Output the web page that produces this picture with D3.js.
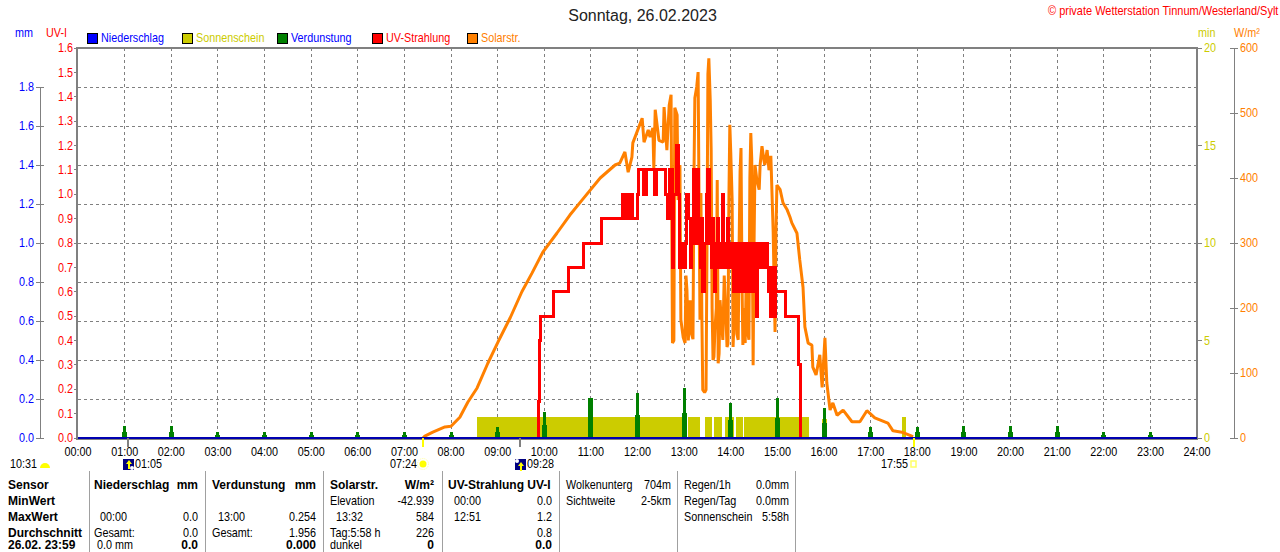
<!DOCTYPE html>
<html><head><meta charset="utf-8">
<script src="https://cdn.jsdelivr.net/npm/d3@7"></script>
<style>html,body{margin:0;padding:0;background:#fff;overflow:hidden}svg{display:block}text{font-family:"Liberation Sans",Arial,sans-serif;font-size:12px}</style>
</head><body><svg id="c" width="1280" height="552"></svg>
<script>
const hourLabels=["00:00","01:00","02:00","03:00","04:00","05:00","06:00","07:00","08:00","09:00","10:00","11:00","12:00","13:00","14:00","15:00","16:00","17:00","18:00","19:00","20:00","21:00","22:00","23:00","24:00"];
const uvTicks=[0,.1,.2,.3,.4,.5,.6,.7,.8,.9,1,1.1,1.2,1.3,1.4,1.5,1.6];
const mmTicks=[0,.2,.4,.6,.8,1,1.2,1.4,1.6,1.8];
const minTicks=[0,5,10,15,20];
const wattTicks=[0,100,200,300,400,500,600];
const legendNames=["Niederschlag","Sonnenschein","Verdunstung","UV-Strahlung","Solarstr."];
const legendColors=["#0000ff","#cccc00","#008000","#ff0000","#ff8000"];
const legendText=["#0000ff","#cccc00","#0000ff","#ff0000","#ff8000"];
const solarHours=[7.40,7.44,7.61,7.87,8.00,8.19,8.36,8.56,8.79,9.01,9.27,9.52,9.74,9.97,10.27,10.55,10.81,11.20,11.52,11.62,11.73,11.80,11.88,11.90,11.99,12.10,12.14,12.23,12.27,12.33,12.35,12.38,12.46,12.55,12.57,12.63,12.68,12.72,
12.75,12.78,12.80,12.85,12.87,12.91,12.93,12.98,13.02,13.04,13.06,13.09,13.13,13.16,13.19,13.21,13.23,13.27,13.30,13.32,13.34,13.36,13.38,13.40,13.44,13.47,13.49,13.51,13.53,13.56,13.58,13.60,13.62,13.64,13.66,13.69,13.71,13.73,13.75,13.77,13.80,13.83,13.86,13.89,13.92,13.94,13.96,13.98,14.00,14.03,14.05,14.08,14.11,14.13,14.16,14.18,14.20,14.22,14.24,14.26,14.28,14.31,14.33,14.35,14.37,14.39,14.41,14.43,14.45,14.48,14.50,14.52,
14.56,14.61,14.63,14.67,14.71,14.73,14.78,14.82,14.86,14.91,14.95,14.97,14.99,15.06,15.12,15.21,15.27,15.31,15.42,15.48,15.55,15.59,15.66,15.74,15.76,15.83,15.91,15.96,16.02,16.06,16.13,16.19,16.28,16.41,16.60,16.77,16.92,17.09,17.37,17.48,17.67,17.91];
const solarWatts=[0,3,9,17,18,32,55,77,115,148,185,225,254,286,315,343,366,400,420,423,440,409,432,454,471,492,455,474,463,477,415,505,458,455,509,443,512,528,
146,150,508,497,366,420,182,155,146,250,228,150,212,160,152,397,523,540,563,366,182,377,190,74,70,74,289,560,584,520,443,200,120,125,166,200,397,115,130,212,180,151,250,200,140,145,366,482,440,366,140,200,243,160,151,300,410,446,250,143,200,146,240,258,160,151,400,469,430,112,300,420,
397,382,420,449,428,420,443,412,434,317,163,320,389,382,362,351,340,331,315,274,232,171,146,143,109,97,128,78,154,85,43,54,35,43,25,25,42,31,23,11,9,2];
const uvHours=[9.85,9.87,9.90,9.93,10.19,10.51,10.85,11.22,11.67,11.70,11.74,11.78,11.82,11.90,11.99,12.03,12.13,12.20,12.30,12.36,12.40,12.60,12.64,12.68,
12.74,12.78,12.83,12.88,12.90,12.92,12.96,13.03,13.06,13.10,13.13,13.15,13.17,13.21,13.25,13.28,13.30,13.32,13.36,13.38,13.40,13.44,13.47,13.50,13.54,13.58,13.60,13.62,13.64,13.66,13.68,13.71,13.74,13.78,13.82,13.85,13.88,13.92,13.95,13.98,14.01,14.03,14.05,14.07,14.09,14.11,14.13,14.15,14.17,14.19,14.21,14.23,14.25,14.27,14.29,14.31,14.33,14.35,14.37,14.39,14.41,14.43,14.45,14.47,14.49,14.52,14.55,14.57,14.59,14.63,14.66,14.70,14.74,14.78,14.82,14.86,14.88,14.91,14.93,14.95,14.97,15.17,15.46,15.50];
const uvValues=[0,.15,.4,.5,.6,.7,.8,.9,1,.9,1,.9,1,.9,1,1.1,1,1.1,1.1,1,1.1,1,.9,1.1,
.7,1,1.2,1,.7,.8,.7,.8,1,.9,.7,.9,.8,1.1,.8,1.1,.8,.9,.7,.9,.6,.8,1,1.1,.8,.7,.9,.7,.8,.6,.8,.9,.7,.8,1,.7,.8,.9,.7,.8,.7,.8,.6,.8,.6,.7,.6,.8,.6,.7,.6,.8,.6,.7,.6,.8,.6,.7,.6,.8,.6,.7,.6,.8,.6,.8,.5,.7,.8,.7,.8,.7,.8,.7,.6,.5,.7,.5,.7,.5,.6,.5,.3,0];
const sunStart=[8.56,13.08,13.45,13.64,13.88,14.11,14.28,15.96,17.67];
const sunEnd=[13.04,13.34,13.60,13.81,14.07,14.26,15.68,16.06,17.76];
const sunMinutes=[1.07,1.07,1.07,1.07,1.07,1.07,1.07,.95,1.07];
const evapHours=[1,2,3,4,5,6,7,8,9,10,11,12,13,14,15,16,17,18,19,20,21,22,23];
const evapPeak=[.06,.06,.03,.03,.03,.03,.03,.03,.056,.133,.205,.23,.254,.18,.205,.154,.056,.056,.06,.06,.06,.03,.03];
const evapBase=[.03,.03,.015,.015,.015,.015,.015,.015,.03,.067,.205,.118,.128,.092,.103,.077,.03,.03,.03,.03,.03,.015,.015];
const tableLines=[89,205,323,442,559,677,795];
const tableRows=[485,501,517,533,545];
const tableLeft=[
["Sensor",8,0,1],["MinWert",8,1,1],["MaxWert",8,2,1],["Durchschnitt",8,3,1],["26.02. 23:59",8,4,1],
["Niederschlag",94,0,1],["00:00",100,2,0],["Gesamt:",94,3,0],["0.0 mm",97,4,0],
["Verdunstung",212,0,1],["13:00",218,2,0],["Gesamt:",212,3,0],
["Solarstr.",330,0,1],["Elevation",330,1,0],["13:32",336,2,0],["Tag:5:58 h",330,3,0],["dunkel",330,4,0],
["UV-Strahlung UV-I",448,0,1],["00:00",454,1,0],["12:51",454,2,0],
["Wolkenunterg",566,0,0],["Sichtweite",566,1,0],
["Regen/1h",684,0,0],["Regen/Tag",684,1,0],["Sonnenschein",684,2,0]];
const tableRight=[
["mm",198,0,1],["0.0",198,2,0],["0.0",198,3,0],["0.0",198,4,1],
["mm",316,0,1],["0.254",316,2,0],["1.956",316,3,0],["0.000",316,4,1],
["W/m²",434,0,1],["-42.939",434,1,0],["584",434,2,0],["226",434,3,0],["0",434,4,1],
["0.0",552,1,0],["1.2",552,2,0],["0.8",552,3,0],["0.0",552,4,1],
["704m",671,0,0],["2-5km",671,1,0],
["0.0mm",789,0,0],["0.0mm",789,1,0],["5:58h",789,2,0]];

const svg=d3.select("#c");
const X0=78,X1=1197,Y0=438,Y1=48,G="#808080";
const x=d3.scaleLinear([0,24],[X0,X1]);
const yUv=d3.scaleLinear([0,1.6],[Y0,Y1]);
const yMm=d3.scaleLinear([0,2],[Y0,Y1]);
const yMin=d3.scaleLinear([0,20],[Y0,Y1]);
const yW=d3.scaleLinear([0,600],[Y0,Y1]);
const f1=d3.format(".1f");
const txt=(s,px,py,o={})=>svg.append("text").attr("transform",`translate(${px},${py}) scale(${o.k||(o.b?1:0.9)},1)`).attr("dy","0.35em").attr("text-anchor",o.a||"start").attr("fill",o.c||"#000").attr("font-weight",o.b?"bold":null).style("font-size",(o.s||12)+"px").text(s);

// grid
const grid=svg.append("g").attr("stroke",G).attr("stroke-dasharray","3,3").attr("shape-rendering","crispEdges");
grid.selectAll(".v").data(d3.range(1,24)).join("line").attr("x1",d=>x(d)).attr("x2",d=>x(d)).attr("y1",Y1).attr("y2",Y0);
grid.selectAll(".h").data(mmTicks.slice(1)).join("line").attr("x1",X0).attr("x2",X1).attr("y1",d=>yMm(d)).attr("y2",d=>yMm(d));

// sunshine
svg.append("g").attr("fill","#cccc00").attr("shape-rendering","crispEdges").selectAll("rect").data(sunStart).join("rect")
 .attr("x",d=>x(d)).attr("width",(d,i)=>x(sunEnd[i])-x(d)).attr("y",(d,i)=>yMin(sunMinutes[i])).attr("height",(d,i)=>Y0-yMin(sunMinutes[i]));
// evaporation
const ev=svg.append("g").attr("fill","#008000").attr("shape-rendering","crispEdges");
ev.selectAll(".b").data(evapHours).join("rect").attr("x",d=>x(d)-2.5).attr("width",5).attr("y",(d,i)=>yMm(evapBase[i])).attr("height",(d,i)=>Y0-yMm(evapBase[i]));
ev.selectAll(".p").data(evapHours).join("rect").attr("x",d=>x(d)-1.5).attr("width",3).attr("y",(d,i)=>yMm(evapPeak[i])).attr("height",(d,i)=>Y0-yMm(evapPeak[i]));
// solar
svg.append("path").attr("fill","none").attr("stroke","#ff8000").attr("stroke-width",3).attr("stroke-linejoin","miter").attr("stroke-miterlimit",1)
 .attr("d",d3.line().x(d=>x(d)).y((d,i)=>yW(solarWatts[i]))(solarHours));
// uv
svg.append("path").attr("fill","none").attr("stroke","#ff0000").attr("stroke-width",3).attr("shape-rendering","crispEdges")
 .attr("d",d3.line().curve(d3.curveStepAfter).x(d=>x(d)).y((d,i)=>yUv(uvValues[i]))(uvHours));

// frame
const fr=svg.append("g").attr("fill",G).attr("shape-rendering","crispEdges");
[[X0-2,Y1-1,X1-X0+3,2],[X0-2,Y1-1,2,Y0-Y1+3],[X1-1,Y1-1,2,Y0-Y1+3],[X0-2,Y0,X1-X0+3,2]].forEach(r=>fr.append("rect").attr("x",r[0]).attr("y",r[1]).attr("width",r[2]).attr("height",r[3]));
svg.append("rect").attr("x",X0).attr("width",X1-X0).attr("y",Y0-1).attr("height",2).attr("fill","#0000b0").attr("shape-rendering","crispEdges");

// left axes
const ax=svg.append("g").attr("stroke",G).attr("shape-rendering","crispEdges");
ax.append("line").attr("x1",40).attr("x2",40).attr("y1",yMm(1.8)).attr("y2",Y0);
ax.selectAll(".m").data(mmTicks).join("line").attr("x1",36).attr("x2",44).attr("y1",d=>yMm(d)).attr("y2",d=>yMm(d));
ax.selectAll(".u").data(uvTicks).join("line").attr("x1",74).attr("x2",77).attr("y1",d=>yUv(d)).attr("y2",d=>yUv(d));
ax.append("line").attr("x1",1234).attr("x2",1234).attr("y1",Y1).attr("y2",Y0);
ax.selectAll(".w").data(wattTicks).join("line").attr("x1",1230).attr("x2",1238).attr("y1",d=>yW(d)).attr("y2",d=>yW(d));
ax.selectAll(".n").data(minTicks).join("line").attr("x1",1197).attr("x2",1202).attr("y1",d=>yMin(d)).attr("y2",d=>yMin(d));
mmTicks.forEach(d=>txt(f1(d),34,yMm(d),{a:"end",c:"#0000ff"}));
uvTicks.forEach(d=>txt(f1(d),73,yUv(d),{a:"end",c:"#ff0000"}));
minTicks.forEach(d=>txt(d,1204,yMin(d),{c:"#cccc00"}));
wattTicks.forEach(d=>txt(d,1240,yW(d),{c:"#ff8000"}));
hourLabels.forEach((d,i)=>txt(d,x(i),452,{a:"middle"}));

// headers
txt("Sonntag, 26.02.2023",642.5,15,{a:"middle",s:16,c:"#222",k:1});
txt("© private Wetterstation Tinnum/Westerland/Sylt",1048,11,{c:"#ff0000",k:0.915});
txt("mm",15,33,{c:"#0000ff"});txt("UV-I",46,33,{c:"#ff0000"});
txt("min",1198,33,{c:"#cccc00"});txt("W/m²",1234,33,{c:"#ff8000"});
const legendSwatchX=[87,182,277,372,467];
legendNames.forEach((n,i)=>{
 svg.append("rect").attr("x",legendSwatchX[i]+.5).attr("y",33.5).attr("width",10).attr("height",10).attr("fill",legendColors[i]).attr("stroke","#000").attr("shape-rendering","crispEdges");
 txt(n,legendSwatchX[i]+14,38,{c:legendText[i]});
});

// sun / moon event markers
const sunTick=svg.append("g").attr("stroke","#ffff00").attr("stroke-width",2).attr("shape-rendering","crispEdges");
[7.4,17.92].forEach(h=>sunTick.append("line").attr("x1",x(h)).attr("x2",x(h)).attr("y1",Y0).attr("y2",Y0+9));
const moonTick=svg.append("g").attr("stroke",G).attr("stroke-width",2).attr("shape-rendering","crispEdges");
[1.08,9.47].forEach(h=>moonTick.append("line").attr("x1",x(h)).attr("x2",x(h)).attr("y1",Y0).attr("y2",Y0+9));
txt("10:31",10,464);
svg.append("path").attr("d","M40,468 a5,5 0 0 1 10,0 z").attr("fill","#ffff00");
function moon(px,ax0){
 svg.append("rect").attr("x",px).attr("y",459).attr("width",11).attr("height",11).attr("fill","#000080");
 svg.append("circle").attr("cx",ax0?px+2:px+9).attr("cy",ax0?461:468).attr("r",2).attr("fill","#fff");
 svg.append("path").attr("d",`M${px+6},${ax0?462:460} l-3,4 h2 v5 h2 v-5 h2 z`).attr("fill","#ffff00");
}
moon(123,false);txt("01:05",135,464);
txt("07:24",390,464);
svg.append("circle").attr("cx",423).attr("cy",464).attr("r",3.5).attr("fill","#ffff00");
svg.append("circle").attr("cx",423).attr("cy",464).attr("r",5.5).attr("fill","none").attr("stroke","#ffff99").attr("stroke-dasharray","1,1");
moon(515,true);txt("09:28",527,464);
txt("17:55",881,464);
svg.append("rect").attr("x",911).attr("y",461).attr("width",5).attr("height",6).attr("fill","none").attr("stroke","#ffff66").attr("stroke-width",1.5);

// table
svg.append("g").attr("stroke","#a0a0a0").attr("stroke-width",1).attr("shape-rendering","crispEdges").selectAll("line").data(tableLines).join("line").attr("x1",d=>d).attr("x2",d=>d).attr("y1",471).attr("y2",552);
tableLeft.forEach(t=>txt(t[0],t[1],tableRows[t[2]],{b:t[3]}));
tableRight.forEach(t=>txt(t[0],t[1],tableRows[t[2]],{a:"end",b:t[3]}));
</script></body></html>
